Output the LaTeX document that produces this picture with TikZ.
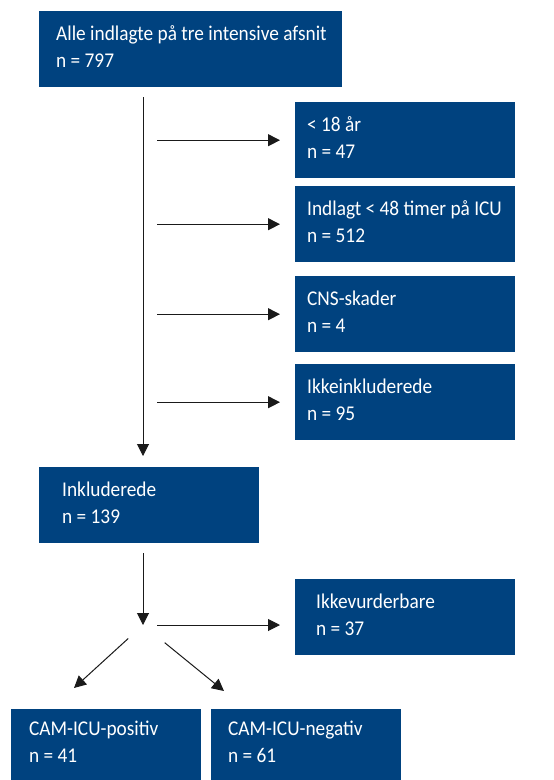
\documentclass[tikz,border=0pt]{standalone}
\usepackage{fontspec}
\setmainfont{Carlito}[FakeStretch=0.92]
\usetikzlibrary{positioning,arrows.meta}
\definecolor{navy}{HTML}{00427F}
\definecolor{dark}{HTML}{1A1A1A}
\tikzset{
  every node/.append style={font=\fontsize{21}{27}\selectfont},
  box/.style 2 args={fill=navy, text=white, anchor=north west, align=flush left,
              inner xsep=0pt, inner ysep=0pt, minimum height=76pt,
              text width=#1, execute at begin node={\leftskip=#2\relax},
              execute at end node={\par\vspace*{5pt}}},
  arr/.style={-{Triangle[length=12pt,width=12pt]}, line width=1pt, draw=dark},
}
\begin{document}
\begin{tikzpicture}[x=1pt,y=-1pt]
  \useasboundingbox (0,0) rectangle (554,780);
  % population
  \node[box={303pt}{17pt}] (all) at (39,11)
    {Alle indlagte på tre intensive afsnit\\n = 797};
  \coordinate (trunk) at (143,97);
  \node[box={220pt}{23pt}] (incl) at (39,467) {Inkluderede\\n = 139};
  \draw[arr, shorten >=11pt] (trunk) -- (trunk |- incl.north);
  % exclusions
  \foreach \nm/\y/\txt/\nn in
     {r1/102/{< 18 år}/47,
      r2/186/{Indlagt < 48 timer på ICU}/512,
      r3/276/{CNS-skader}/4,
      r4/364/{Ikkeinkluderede}/95}{
     \node[box={220pt}{12pt}] (\nm) at (295,\y) {\txt\\n = \nn};
     \draw[arr, shorten <=14pt, shorten >=15pt] (trunk |- \nm.west) -- (\nm.west);
  }
  % assessment
  \coordinate (split) at (143,625);
  \node[box={220pt}{21pt}] (nv) at (295,579) {Ikkevurderbare\\n = 37};
  \draw[arr, shorten <=10pt] (incl.south -| trunk) -- (split);
  \draw[arr, shorten <=14pt, shorten >=15pt] (split) -- (split -| nv.west);
  \node[box={190pt}{18pt}, minimum height=71pt] (pos) at (11,709) {CAM-ICU-positiv\\n = 41};
  \node[box={190pt}{17pt}, minimum height=71pt] (neg) at (211,709) {CAM-ICU-negativ\\n = 61};
  \coordinate (posin) at ([shift={(63,-21)}]pos.north west);
  \coordinate (negin) at ([shift={(13,-18)}]neg.north west);
  \draw[arr, shorten <=20pt] (split) -- (posin);
  \draw[arr, shorten <=28pt] (split) -- (negin);
\end{tikzpicture}
\end{document}
